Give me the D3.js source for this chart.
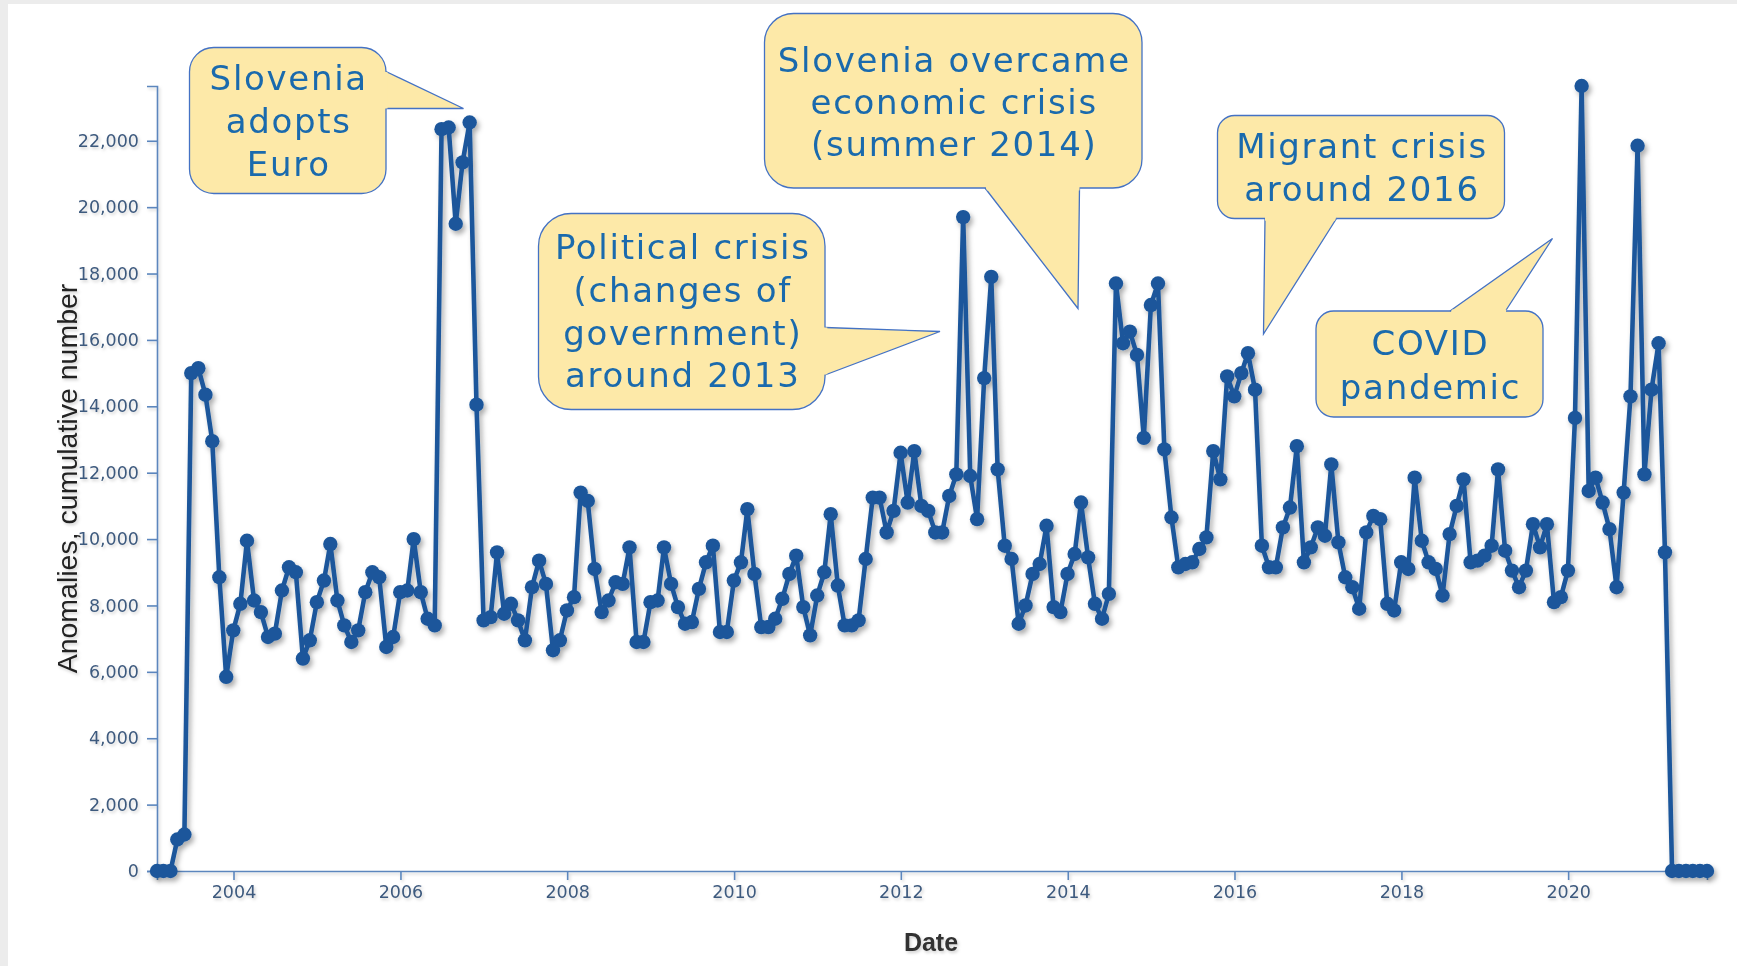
<!DOCTYPE html>
<html>
<head>
<meta charset="utf-8">
<script src="https://cdn.jsdelivr.net/npm/d3@7"></script>
<style>
  html, body { margin: 0; padding: 0; background: #ffffff; }
  svg { display: block; }
</style>
</head>
<body>
<svg id="chart" width="1737" height="966"></svg>
<script>
// ---------------- DATA ----------------
// Monthly series, first value = January 2003 (month-end dates)
const firstYear = 2003;
const anomalies = [
  // 2003
  0, 0, 0, 950, 1100, 15000, 15150, 14350, 12950, 8850, 5850, 7250,
  // 2004
  8050, 9950, 8150, 7800, 7050, 7150, 8450, 9150, 9000, 6400, 6950, 8100,
  // 2005
  8750, 9850, 8150, 7400, 6900, 7250, 8400, 9000, 8850, 6750, 7050, 8400,
  // 2006
  8450, 10000, 8400, 7600, 7400, 22350, 22400, 19500, 21350, 22550, 14050, 7550,
  // 2007
  7650, 9600, 7750, 8050, 7550, 6950, 8550, 9350, 8650, 6650, 6950, 7850,
  // 2008
  8250, 11400, 11150, 9100, 7800, 8150, 8700, 8650, 9750, 6900, 6900, 8100,
  // 2009
  8150, 9750, 8650, 7950, 7450, 7500, 8500, 9300, 9800, 7200, 7200, 8750,
  // 2010
  9300, 10900, 8950, 7350, 7350, 7600, 8200, 8950, 9500, 7950, 7100, 8300,
  // 2011
  9000, 10750, 8600, 7400, 7400, 7550, 9400, 11250, 11250, 10200, 10850, 12600,
  // 2012
  11100, 12650, 11000, 10850, 10200, 10200, 11300, 11950, 19700, 11900, 10600, 14850,
  // 2013
  17900, 12100, 9800, 9400, 7450, 8000, 8950, 9250, 10400, 7950, 7800, 8950,
  // 2014
  9550, 11100, 9450, 8050, 7600, 8350, 17700, 15900, 16250, 15550, 13050, 17050,
  // 2015
  17700, 12700, 10650, 9150, 9250, 9300, 9700, 10050, 12650, 11800, 14900, 14300,
  // 2016
  15000, 15600, 14500, 9800, 9150, 9150, 10350, 10950, 12800, 9300, 9750, 10350,
  // 2017
  10100, 12250, 9900, 8850, 8550, 7900, 10200, 10700, 10600, 8050, 7850, 9300,
  // 2018
  9100, 11850, 9950, 9300, 9100, 8300, 10150, 11000, 11800, 9300, 9350, 9500,
  // 2019
  9800, 12100, 9650, 9050, 8550, 9050, 10450, 9750, 10450, 8100, 8250, 9050,
  // 2020
  13650, 23650, 11450, 11850, 11100, 10300, 8550, 11400, 14300, 21850, 11950, 14500,
  // 2021
  15900, 9600, 0, 0, 0, 0, 0, 0
];

const yTickValues = [0, 2000, 4000, 6000, 8000, 10000, 12000, 14000, 16000, 18000, 20000, 22000];
const xTickYears = [2004, 2006, 2008, 2010, 2012, 2014, 2016, 2018, 2020];
const yTitle = "Anomalies, cumulative number";
const xTitle = "Date";

const calloutEuro = ["Slovenia", "adopts", "Euro"];
const calloutPolitical = ["Political crisis", "(changes of", "government)", "around 2013"];
const calloutEconomic = ["Slovenia overcame", "economic crisis", "(summer 2014)"];
const calloutMigrant = ["Migrant crisis", "around 2016"];
const calloutCovid = ["COVID", "pandemic"];

// ---------------- LAYOUT ----------------
const W = 1737, H = 966;
const plot = { left: 157, right: 1707, top: 86, bottom: 871 };
const lineColor = "#1c579b";
const axisColor = "#5b86bd";
const tickTextColor = "#3e5a7e";
const boxFill = "#fde9a8";
const boxStroke = "#4472c4";
const boxText = "#1a6aad";

const svg = d3.select("#chart");

const defs = svg.append("defs");
const f1 = defs.append("filter").attr("id", "shadow")
  .attr("x", "-5%").attr("y", "-5%").attr("width", "115%").attr("height", "115%");
f1.append("feDropShadow").attr("dx", 2.5).attr("dy", 3.5).attr("stdDeviation", 2.5)
  .attr("flood-color", "#000").attr("flood-opacity", 0.32);
const f2 = defs.append("filter").attr("id", "shadowLight")
  .attr("x", "-5%").attr("y", "-5%").attr("width", "115%").attr("height", "115%");
f2.append("feDropShadow").attr("dx", 1.5).attr("dy", 2).attr("stdDeviation", 1.5)
  .attr("flood-color", "#000").attr("flood-opacity", 0.18);

// page background & light grey frame edges
svg.append("rect").attr("width", W).attr("height", H).attr("fill", "#ffffff");
svg.append("rect").attr("x", 0).attr("y", 0).attr("width", 8).attr("height", H).attr("fill", "#ececec");
svg.append("rect").attr("x", 0).attr("y", 0).attr("width", W).attr("height", 4).attr("fill", "#ececec");

// ---------------- SCALES ----------------
const dates = anomalies.map((_, i) => new Date(firstYear, i + 1, 0));
const data = anomalies.map((v, i) => ({ date: dates[i], value: v }));

const x = d3.scaleTime()
  .domain([dates[0], dates[dates.length - 1]])
  .range([plot.left, plot.right]);
const y = d3.scaleLinear()
  .domain([0, d3.max(anomalies)])
  .range([plot.bottom, plot.top]);

// ---------------- AXES ----------------
const axes = svg.append("g").attr("filter", "url(#shadowLight)");

const gy = axes.append("g")
  .attr("transform", `translate(${plot.left},0)`)
  .call(d3.axisLeft(y).tickValues(yTickValues).tickFormat(d3.format(","))
    .tickSize(10).tickSizeOuter(10).tickPadding(8));

const gx = axes.append("g")
  .attr("transform", `translate(0,${plot.bottom})`)
  .call(d3.axisBottom(x).tickValues(xTickYears.map(yr => new Date(yr, 0, 1)))
    .tickFormat(d3.timeFormat("%Y")).tickSize(9).tickSizeOuter(9).tickPadding(6));

[gx, gy].forEach(g => {
  g.select(".domain").attr("stroke", axisColor).attr("stroke-width", 1.6);
  g.selectAll(".tick line").attr("stroke", axisColor).attr("stroke-width", 1.6);
  g.selectAll(".tick text")
    .attr("fill", tickTextColor)
    .style("font-family", "'DejaVu Sans', sans-serif")
    .style("font-size", "17.5px");
});

axes.append("text")
  .attr("transform", `translate(67,${(plot.top + plot.bottom) / 2}) rotate(-90)`)
  .attr("text-anchor", "middle")
  .attr("dy", "0.35em")
  .attr("fill", "#222")
  .style("font-family", "'Liberation Sans', Arial, sans-serif")
  .style("font-size", "28.5px")
  .text(yTitle);

axes.append("text")
  .attr("x", 931)
  .attr("y", 951)
  .attr("text-anchor", "middle")
  .attr("fill", "#333")
  .style("font-family", "'Liberation Sans', Arial, sans-serif")
  .style("font-weight", "bold")
  .style("font-size", "25px")
  .text(xTitle);

// ---------------- DATA MARKS ----------------
const marks = svg.append("g").attr("filter", "url(#shadow)");
const line = d3.line().x(d => x(d.date)).y(d => y(d.value));
marks.append("path")
  .datum(data)
  .attr("d", line)
  .attr("fill", "none")
  .attr("stroke", lineColor)
  .attr("stroke-width", 4.6)
  .attr("stroke-linejoin", "round");
marks.selectAll("circle")
  .data(data)
  .join("circle")
  .attr("cx", d => x(d.date))
  .attr("cy", d => y(d.value))
  .attr("r", 7.2)
  .attr("fill", lineColor);

// ---------------- CALLOUTS ----------------
function callout(box, tail, lines, baselines) {
  const g = svg.append("g");
  const w = box.x1 - box.x0, h = box.y1 - box.y0;
  const r = Math.min(w, h) / 6;
  g.append("rect")
    .attr("x", box.x0).attr("y", box.y0).attr("width", w).attr("height", h)
    .attr("rx", r).attr("ry", r)
    .attr("fill", boxFill).attr("stroke", boxStroke).attr("stroke-width", 1.3);
  const [b1, tip, b2] = tail;
  g.append("path")
    .attr("d", `M${b1[0]},${b1[1]}L${tip[0]},${tip[1]}L${b2[0]},${b2[1]}`)
    .attr("fill", boxFill).attr("stroke", boxStroke).attr("stroke-width", 1.3)
    .attr("stroke-linejoin", "miter");
  const cx = (box.x0 + box.x1) / 2, cy = (box.y0 + box.y1) / 2;
  let p1, p2;
  if (Math.abs(b1[0] - b2[0]) < 0.5) {
    const dx = cx > b1[0] ? 3 : -3;
    p1 = [b1[0] + dx, b1[1]]; p2 = [b2[0] + dx, b2[1]];
  } else {
    const dy = cy > b1[1] ? 3 : -3;
    p1 = [b1[0], b1[1] + dy]; p2 = [b2[0], b2[1] + dy];
  }
  const inset = (a, b, t) => [a[0] + (b[0] - a[0]) * t, a[1] + (b[1] - a[1]) * t];
  const q1 = inset(b1, tip, 0.02), q2 = inset(b2, tip, 0.02);
  g.append("path")
    .attr("d", `M${q1[0]},${q1[1]}L${q2[0]},${q2[1]}L${p2[0]},${p2[1]}L${p1[0]},${p1[1]}Z`)
    .attr("fill", boxFill).attr("stroke", "none");
  g.selectAll("text.cl")
    .data(lines)
    .join("text")
    .attr("class", "cl")
    .attr("x", cx + 1)
    .attr("y", (d, i) => baselines[i])
    .attr("text-anchor", "middle")
    .attr("fill", boxText)
    .style("font-family", "'DejaVu Sans', sans-serif")
    .style("font-size", "34px")
    .style("letter-spacing", "1.7px")
    .text(d => d);
}

callout({ x0: 189.5, y0: 47.5, x1: 386, y1: 193.5 },
  [[386, 71.5], [463.5, 108.5], [386, 108.5]],
  calloutEuro, [89.5, 132.5, 175.5]);

callout({ x0: 538.5, y0: 213.5, x1: 825, y1: 409.5 },
  [[825, 327.5], [940, 331.5], [825, 375]],
  calloutPolitical, [259, 302, 345, 387]);

callout({ x0: 764.5, y0: 13.5, x1: 1142, y1: 188 },
  [[985, 188], [1078, 308.5], [1079.5, 188]],
  calloutEconomic, [72, 114, 156]);

callout({ x0: 1217.5, y0: 115.5, x1: 1504.5, y1: 218.5 },
  [[1265, 218.5], [1263.5, 334], [1336.5, 218.5]],
  calloutMigrant, [158, 201]);

callout({ x0: 1316, y0: 311, x1: 1543, y1: 417 },
  [[1450, 311], [1552.5, 238.5], [1505.5, 311]],
  calloutCovid, [355, 398.5]);
</script>
</body>
</html>
